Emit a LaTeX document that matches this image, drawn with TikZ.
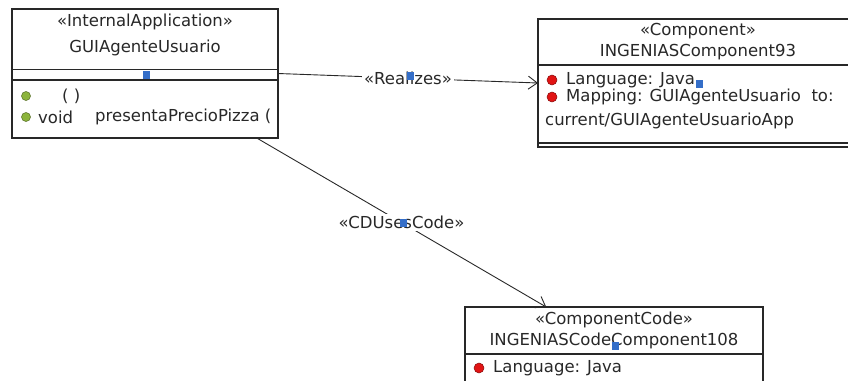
\documentclass[tikz,border=0pt]{standalone}
\usepackage{fontspec}
\setmainfont{DejaVu Sans}
\usepackage{tikz}
\usetikzlibrary{arrows.meta, positioning}
\definecolor{inkColor}{RGB}{40, 40, 40}
\definecolor{handleBlue}{RGB}{52, 110, 200}
\definecolor{opGreen}{RGB}{140, 180, 60}
\definecolor{attrRed}{RGB}{225, 20, 20}
\tikzset{
    class_box/.style={
        draw=inkColor,
        line width=1.2pt,
        fill=white,
        inner sep=0pt,
        outer sep=0pt
    },
    part_line/.style={
        draw=inkColor,
        line width=1.2pt
    },
    uml_text/.style={
        text=inkColor,
        inner sep=0pt,
        font=\fontsize{16.5pt}{19pt}\selectfont
    },
    rel_edge/.style={
        -{Straight Barb[length=9pt, width=13pt, line width=0.9pt]},
        draw=inkColor,
        line width=0.9pt
    },
    rel_label/.style={
        uml_text,
        fill=white,
        inner sep=2pt
    },
    handle/.style={
        fill=handleBlue,
        minimum width=7pt,
        minimum height=8pt,
        inner sep=0pt
    },
    op_dot/.style={
        circle,
        fill=opGreen,
        draw=opGreen!60!black,
        line width=0.5pt,
        minimum size=9pt,
        inner sep=0pt
    },
    attr_dot/.style={
        circle,
        fill=attrRed,
        draw=attrRed!60!black,
        line width=0.5pt,
        minimum size=10pt,
        inner sep=0pt
    }
}

\begin{document}
\begin{tikzpicture}[x=1pt, y=-1pt]
    \useasboundingbox (0,0) rectangle (848,380);
    \clip (0,0) rectangle (848,380);

    % GUIAgenteUsuario
    \node[class_box, minimum width=266pt, minimum height=129pt] (app) at (145,73.5) {};
    \draw[part_line] (12,69.5) -- (278,69.5);
    \draw[part_line] (12,80) -- (278,80);
    \node[uml_text] (app_st) at (145,22) {«InternalApplication»};
    \node[uml_text] (app_name) at (145,48) {GUIAgenteUsuario};
    \node[op_dot] (op1_dot) at (26,96) {};
    \node[uml_text, anchor=west] (op1) at (62,96) {( )};
    \node[op_dot] (op2_dot) at (26,117) {};
    \node[uml_text, anchor=west] (op2_type) at (38,117) {void};
    \node[uml_text, anchor=west] (op2) at (95,117) {presentaPrecioPizza (};

    % INGENIASComponent93
    \node[class_box, minimum width=320pt, minimum height=128pt] (comp) at (698,83) {};
    \draw[part_line] (538,65) -- (858,65);
    \draw[part_line] (538,143) -- (858,143);
    \node[uml_text] (comp_st) at (698,31) {«Component»};
    \node[uml_text] (comp_name) at (698,52) {INGENIASComponent93};
    \node[attr_dot] (lang_dot) at (552,80) {};
    \node[uml_text, anchor=west] (lang) at (566,80) {Language: Java};
    \node[attr_dot] (map_dot) at (552,97) {};
    \node[uml_text, anchor=west] (map) at (566,97) {Mapping: GUIAgenteUsuario\ \ to:};
    \node[uml_text, anchor=west] (map_cont) at (545,121) {current/GUIAgenteUsuarioApp};

    % INGENIASCodeComponent108
    \node[class_box, minimum width=298pt, minimum height=88pt] (code) at (614,351) {};
    \draw[part_line] (465,354) -- (763,354);
    \node[uml_text] (code_st) at (614,320) {«ComponentCode»};
    \node[uml_text] (code_name) at (614,341) {INGENIASCodeComponent108};
    \node[attr_dot] (code_dot) at (479,368) {};
    \node[uml_text, anchor=west] (code_lang) at (493,368) {Language: Java};

    % relations
    \draw[rel_edge] (app.east) -- node[rel_label] (realizes) {«Realizes»} (comp.west);
    \draw[rel_edge] (app.-30) -- node[rel_label, pos=0.5] (uses) {«CDUsesCode»} (code.147.5);

    % selection handles
    \node[handle] (h_app) at (146,75) {};
    \node[handle] (h_realizes) at (410,76) {};
    \node[handle] (h_comp) at (699,84) {};
    \node[handle] (h_uses) at (403,223) {};
    \node[handle] (h_code) at (615,346) {};
\end{tikzpicture}
\end{document}
